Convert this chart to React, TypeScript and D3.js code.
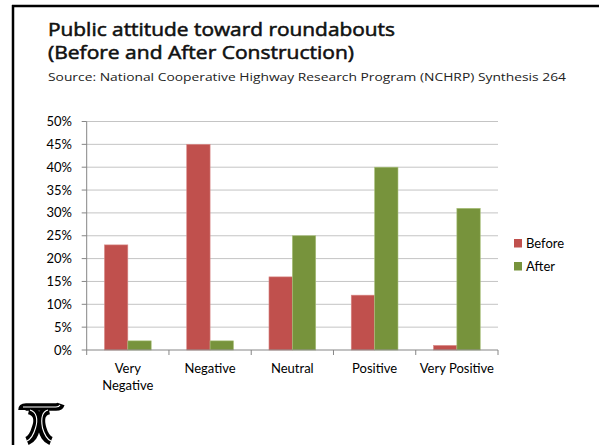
import React from 'react';
import * as d3 from 'd3';

// chart values
const categories = ['Very Negative', 'Negative', 'Neutral', 'Positive', 'Very Positive'];
const categoryLines = [['Very', 'Negative'], ['Negative'], ['Neutral'], ['Positive'], ['Very Positive']];
const beforeValues = [23, 45, 16, 12, 1];
const afterValues = [2, 2, 25, 40, 31];
const yTicks = [0, 5, 10, 15, 20, 25, 30, 35, 40, 45, 50];
const seriesNames = ['Before', 'After'];
const seriesColors = ['#C0504D', '#77933C'];

const W = 599;
const H = 445;
const plot = { left: 86.7, right: 498, top: 121.5, bottom: 350 };
const labelFont = 'Lato, "Open Sans", sans-serif';

const App: React.FC = () => {
    const x = d3.scaleBand<string>()
        .domain(categories)
        .range([plot.left, plot.right]);

    const y = d3.scaleLinear()
        .domain([0, 50])
        .range([plot.bottom, plot.top]);

    // two bars per category, centred in the band
    const inner = d3.scaleBand<string>()
        .domain(seriesNames)
        .range([0, x.bandwidth()])
        .paddingOuter(0.76)
        .paddingInner(0);

    const series = [beforeValues, afterValues];

    return (
        <svg
            width={W}
            height={H}
            style={{ position: 'absolute', left: 0, top: 0, background: '#fff' }}
        >
            {/* slide frame */}
            <line x1={12} y1={6} x2={W} y2={6} stroke="#000" strokeWidth={2.5} />
            <line x1={13} y1={5} x2={13} y2={H} stroke="#000" strokeWidth={2.5} />

            {/* titles (regular face, lightly stroked to get a semi-bold look) */}
            <text x={48} y={35.5} fontFamily='"Open Sans", sans-serif' fontSize={18.5}
                stroke="#111" strokeWidth={0.55}
                textLength={347} lengthAdjust="spacingAndGlyphs" fill="#111">
                Public attitude toward roundabouts
            </text>
            <text x={48} y={58.5} fontFamily='"Open Sans", sans-serif' fontSize={18.5}
                stroke="#111" strokeWidth={0.55}
                textLength={306} lengthAdjust="spacingAndGlyphs" fill="#111">
                (Before and After Construction)
            </text>
            <text x={48} y={81} fontFamily='"Open Sans", sans-serif' fontSize={11} fill="#222"
                textLength={518} lengthAdjust="spacingAndGlyphs">
                Source: National Cooperative Highway Research Program (NCHRP) Synthesis 264
            </text>

            {/* gridlines */}
            {yTicks.filter(t => t > 0).map(t => (
                <line key={'g' + t} x1={plot.left} x2={plot.right} y1={y(t)} y2={y(t)}
                    stroke="#c4c4c4" strokeWidth={1} />
            ))}

            {/* bars */}
            {categories.map((c, i) => (
                <g key={c} transform={`translate(${x(c)},0)`}>
                    {series.map((vals, s) => (
                        <rect key={s}
                            x={inner(seriesNames[s])}
                            y={y(vals[i])}
                            width={inner.bandwidth()}
                            height={y(0) - y(vals[i])}
                            fill={seriesColors[s]}
                            stroke={s === 0 ? '#d98a88' : '#a9c07a'}
                            strokeWidth={0.6}
                        />
                    ))}
                </g>
            ))}

            {/* y axis */}
            <line x1={plot.left} x2={plot.left} y1={plot.top} y2={plot.bottom} stroke="#868686" />
            {yTicks.map(t => (
                <g key={'t' + t}>
                    <line x1={plot.left - 5} x2={plot.left} y1={y(t)} y2={y(t)} stroke="#868686" />
                    <text x={72} y={y(t) + 4.5} textAnchor="end" fontFamily={labelFont} fontSize={13} fill="#000">
                        {t}%
                    </text>
                </g>
            ))}

            {/* x axis */}
            <line x1={plot.left} x2={plot.right} y1={plot.bottom} y2={plot.bottom} stroke="#868686" />
            {categories.map(c => (
                <line key={'xt' + c} x1={x(c)! + x.bandwidth()} x2={x(c)! + x.bandwidth()}
                    y1={plot.bottom} y2={plot.bottom + 5} stroke="#868686" />
            ))}
            <line x1={plot.left} x2={plot.left} y1={plot.bottom} y2={plot.bottom + 5} stroke="#868686" />
            {categories.map((c, i) => (
                <text key={'xl' + c} x={x(c)! + x.bandwidth() / 2} y={373} textAnchor="middle"
                    fontFamily={labelFont} fontSize={13} fill="#000">
                    {categoryLines[i].map((ln, k) => (
                        <tspan key={k} x={x(c)! + x.bandwidth() / 2} dy={k === 0 ? 0 : 17}>{ln}</tspan>
                    ))}
                </text>
            ))}

            {/* legend */}
            {seriesNames.map((n, s) => (
                <g key={n} transform={`translate(514,${239 + s * 23})`}>
                    <rect width={8} height={8.5} fill={seriesColors[s]} />
                    <text x={12} y={9} fontFamily={labelFont} fontSize={13} fill="#000">{n}</text>
                </g>
            ))}

            {/* logo */}
            <g fill="none" strokeLinecap="butt">
                <path d="M22,410 Q22,407 26,407 L56,407 Q60,407 61,404" stroke="#000" strokeWidth={7.5} />
                <path d="M29,410 C38,412 39,420 36,428 C34,435 32,439 27,441" stroke="#000" strokeWidth={8.5} />
                <path d="M49,410 C40,412 40,420 42,428 C44,435 46,439 51,441" stroke="#000" strokeWidth={8.5} />
                <path d="M23,407 L56,407 Q59,407 60,405" stroke="#fff" strokeWidth={1.1} />
                <path d="M30,410 C37,412 38,420 35.5,428 C33.5,435 31.5,439 27,441" stroke="#fff" strokeWidth={1.1} />
                <path d="M48,410 C41,412 41,420 42.5,428 C44.5,435 46.5,439 51,441" stroke="#fff" strokeWidth={1.1} />
            </g>
        </svg>
    );
};

export default App;
